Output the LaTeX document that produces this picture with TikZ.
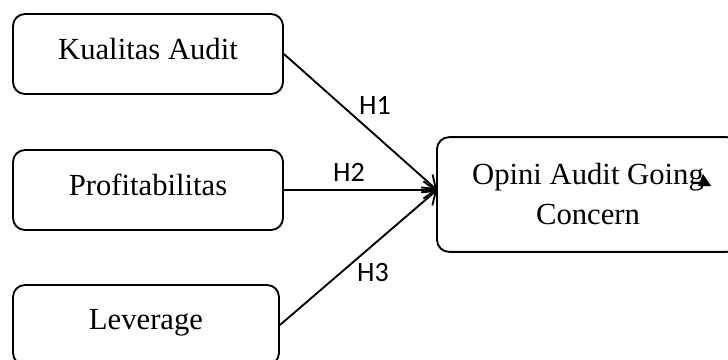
\documentclass[tikz,border=0pt]{standalone}
\usepackage{fontspec}
\setmainfont{Liberation Serif}
\newfontfamily\labelfont{Carlito}
\usetikzlibrary{arrows.meta}
\begin{document}
\begin{tikzpicture}[x=0.75pt, y=-0.75pt,
  var/.style={draw, rounded corners=9pt, line width=1.4pt, minimum width=202.5pt,
    minimum height=60pt, text depth=8pt, font=\fontsize{23}{30}\selectfont},
  dep/.style={draw, rounded corners=9pt, line width=1.4pt, minimum width=226.5pt,
    minimum height=86pt, align=center, font=\fontsize{23}{30}\selectfont},
  hyp/.style={font=\labelfont\fontsize{21}{24}\selectfont},
  link/.style={line width=1.4pt, -{Straight Barb[length=9pt, width=13pt, line width=1.4pt]}}]
  \useasboundingbox (0,0) rectangle (728,360);
  \node[var] (K) at (148,54) {Kualitas Audit};
  \node[var] (P) at (148,190) {Profitabilitas};
  \node[var, minimum width=199.5pt] (L) at (146,325) {Leverage};
  \node[dep] (O) at (588,194.5) {Opini Audit Going\\Concern};
  \coordinate (tip) at (437,190);
  \draw[link] (K.east) -- (tip);
  \draw[link] (P.east) -- (tip);
  \draw[link] (L.east) -- (tip);
  \node[hyp] (h1) at (375,105) {H1};
  \node[hyp] (h2) at (349,172) {H2};
  \node[hyp] (h3) at (373,273) {H3};
  \fill (698,186) -- (703,174) -- (711,186) -- cycle;

\end{tikzpicture}
\end{document}
